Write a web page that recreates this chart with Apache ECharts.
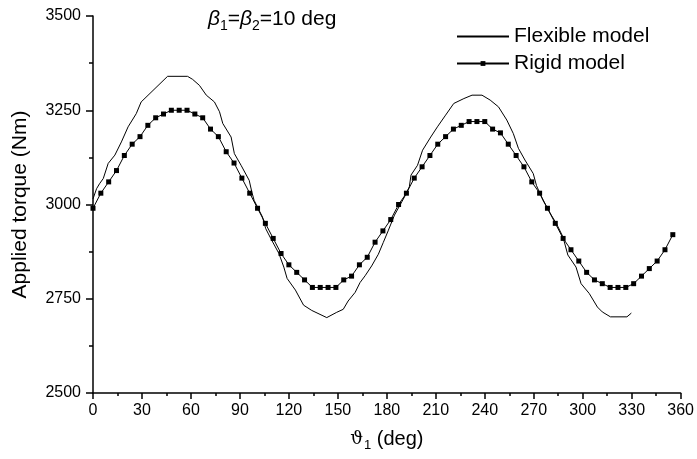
<!DOCTYPE html>
<html>
<head>
<meta charset="utf-8">
<title>Applied torque</title>
<script src="https://cdn.jsdelivr.net/npm/echarts@6/dist/echarts.min.js"></script>
<style>
  html, body { margin: 0; padding: 0; background: #fff; }
  #chart { width: 697px; height: 459px; }
</style>
</head>
<body>
<div id="chart"></div>
<script>
// rigid model: one marker every 4.8 deg
var rigidAngle = [0, 4.8, 9.6, 14.4, 19.2, 24, 28.8, 33.6, 38.4, 43.2,
  48, 52.8, 57.6, 62.4, 67.2, 72, 76.8, 81.6, 86.4, 91.2,
  96, 100.8, 105.6, 110.4, 115.2, 120, 124.8, 129.6, 134.4, 139.2,
  144, 148.8, 153.6, 158.4, 163.2, 168, 172.8, 177.6, 182.4, 187.2,
  192, 196.8, 201.6, 206.4, 211.2, 216, 220.8, 225.6, 230.4, 235.2,
  240, 244.8, 249.6, 254.4, 259.2, 264, 268.8, 273.6, 278.4, 283.2,
  288, 292.8, 297.6, 302.4, 307.2, 312, 316.8, 321.6, 326.4, 331.2,
  336, 340.8, 345.6, 350.4, 355.2];
var rigidTorque = [2990, 3030, 3060, 3090, 3130, 3160, 3180, 3210, 3230, 3240,
  3250, 3250, 3250, 3240, 3230, 3200, 3180, 3140, 3110, 3070,
  3030, 2990, 2950, 2910, 2870, 2840, 2820, 2800, 2780, 2780,
  2780, 2780, 2800, 2810, 2840, 2860, 2900, 2930, 2960, 3000,
  3030, 3070, 3100, 3130, 3160, 3180, 3200, 3210, 3220, 3220,
  3220, 3200, 3190, 3160, 3130, 3100, 3060, 3030, 2990, 2950,
  2910, 2880, 2850, 2820, 2800, 2790, 2780, 2780, 2780, 2790,
  2810, 2830, 2850, 2880, 2920];

// flexible model
var flexAngle = [0, 2.2, 4, 6.3, 9.3, 13.4, 17.4, 21.5, 26.5, 29.5,
  45.7, 57.9, 61, 65.2, 69.4, 74.4, 77.5, 79.5, 84.6, 86.6,
  90.7, 95.7, 97.3, 98.7, 103.8, 105.8, 108.9, 113.9, 116.9, 118.9,
  124, 129, 134, 143.2, 149.3, 153.3, 156.3, 160.6, 163.6, 166.7,
  170.7, 174.8, 177.8, 180.8, 184.7, 190.8, 193.8, 194.8, 198.8, 201.9,
  206.9, 211, 216, 221, 227.2, 232.2, 238.3, 243.3, 248.4, 253.5,
  257.5, 260.6, 264.6, 269.7, 271.7, 275.7, 280.7, 283.8, 287.9, 290.9,
  295.9, 299, 304, 309, 312, 317, 327.1, 329.8];
var flexTorque = [3015, 3042, 3055, 3069, 3109, 3131, 3166, 3206, 3241, 3272,
  3340, 3340, 3332, 3316, 3290, 3272, 3246, 3215, 3179, 3135,
  3104, 3064, 3033, 3011, 2967, 2936, 2910, 2870, 2834, 2804,
  2773, 2733, 2719, 2700, 2714, 2722, 2744, 2767, 2793, 2811,
  2837, 2868, 2899, 2930, 2972, 3020, 3047, 3078, 3104, 3144,
  3179, 3206, 3237, 3268, 3281, 3290, 3290, 3277, 3259, 3224,
  3188, 3149, 3118, 3082, 3050, 3011, 2972, 2950, 2914, 2866,
  2834, 2790, 2764, 2728, 2715, 2702, 2702, 2712];

var xTicks = { min: 0, max: 360, step: 30 };
var yTicks = { min: 2500, max: 3500, step: 250 };

function pairs(xs, ys) {
  var out = [];
  for (var i = 0; i < xs.length; i++) out.push([xs[i], ys[i]]);
  return out;
}

var font = '"Liberation Sans", Arial, sans-serif';
var chart = echarts.init(document.getElementById('chart'), null, { renderer: 'canvas' });

chart.setOption({
  animation: false,
  backgroundColor: '#fff',
  grid: { left: 93, right: 11, top: 16, bottom: 66, containLabel: false },
  legend: {
    orient: 'vertical',
    left: 456,
    top: 26,
    padding: 0,
    itemWidth: 52,
    itemHeight: 6,
    itemGap: 6,
    textStyle: { fontFamily: font, fontSize: 21, color: '#000' },
    data: [
      { name: 'Flexible model', itemStyle: { opacity: 0 } },
      { name: 'Rigid model' }
    ]
  },
  xAxis: {
    type: 'value',
    min: xTicks.min, max: xTicks.max, interval: xTicks.step,
    name: '{t|ϑ}{s|1}{n| (deg)}',
    nameLocation: 'middle',
    nameGap: 34,
    nameTextStyle: {
      rich: {
        t: { fontFamily: '"DejaVu Serif", serif', fontSize: 18, color: '#000' },
        s: { fontFamily: font, fontSize: 13, color: '#000', padding: [12, 0, 0, 1] },
        n: { fontFamily: font, fontSize: 20, color: '#000' }
      }
    },
    axisLine: { lineStyle: { color: '#000', width: 1.5 } },
    axisTick: { length: 6, lineStyle: { color: '#000', width: 1.5 } },
    minorTick: { show: true, splitNumber: 2, length: 3, lineStyle: { color: '#000', width: 1.5 } },
    axisLabel: { fontFamily: font, fontSize: 16, color: '#000', margin: 10 },
    splitLine: { show: false }
  },
  yAxis: {
    type: 'value',
    min: yTicks.min, max: yTicks.max, interval: yTicks.step,
    name: 'Applied torque (Nm)',
    nameLocation: 'middle',
    nameRotate: 90,
    nameGap: 62,
    nameTextStyle: { fontFamily: font, fontSize: 21, color: '#000' },
    axisLine: { show: true, lineStyle: { color: '#000', width: 1.5 } },
    axisTick: { show: true, length: 7, lineStyle: { color: '#000', width: 1.5 } },
    minorTick: { show: true, splitNumber: 2, length: 4, lineStyle: { color: '#000', width: 1.5 } },
    axisLabel: {
      fontFamily: font, fontSize: 16, color: '#000', margin: 12,
      formatter: function (v) { return String(v); }
    },
    splitLine: { show: false }
  },
  graphic: [{
    type: 'text',
    left: 208,
    top: 9,
    style: {
      text: '{b|β}{s|1}{n|=}{b|β}{s|2}{n|=10 deg}',
      rich: {
        b: { fontFamily: font, fontStyle: 'italic', fontSize: 21, fill: '#000' },
        s: { fontFamily: font, fontSize: 14, fill: '#000', padding: [13, 0, 0, 0] },
        n: { fontFamily: font, fontSize: 21, fill: '#000' }
      }
    }
  }],
  series: [{
    name: 'Flexible model',
    type: 'line',
    data: pairs(flexAngle, flexTorque),
    symbol: 'none',
    lineStyle: { color: '#000', width: 1 },
    itemStyle: { color: '#000' }
  }, {
    name: 'Rigid model',
    type: 'line',
    data: pairs(rigidAngle, rigidTorque),
    symbol: 'rect',
    symbolSize: 5,
    lineStyle: { color: '#000', width: 1 },
    itemStyle: { color: '#000' }
  }]
});
</script>
</body>
</html>
